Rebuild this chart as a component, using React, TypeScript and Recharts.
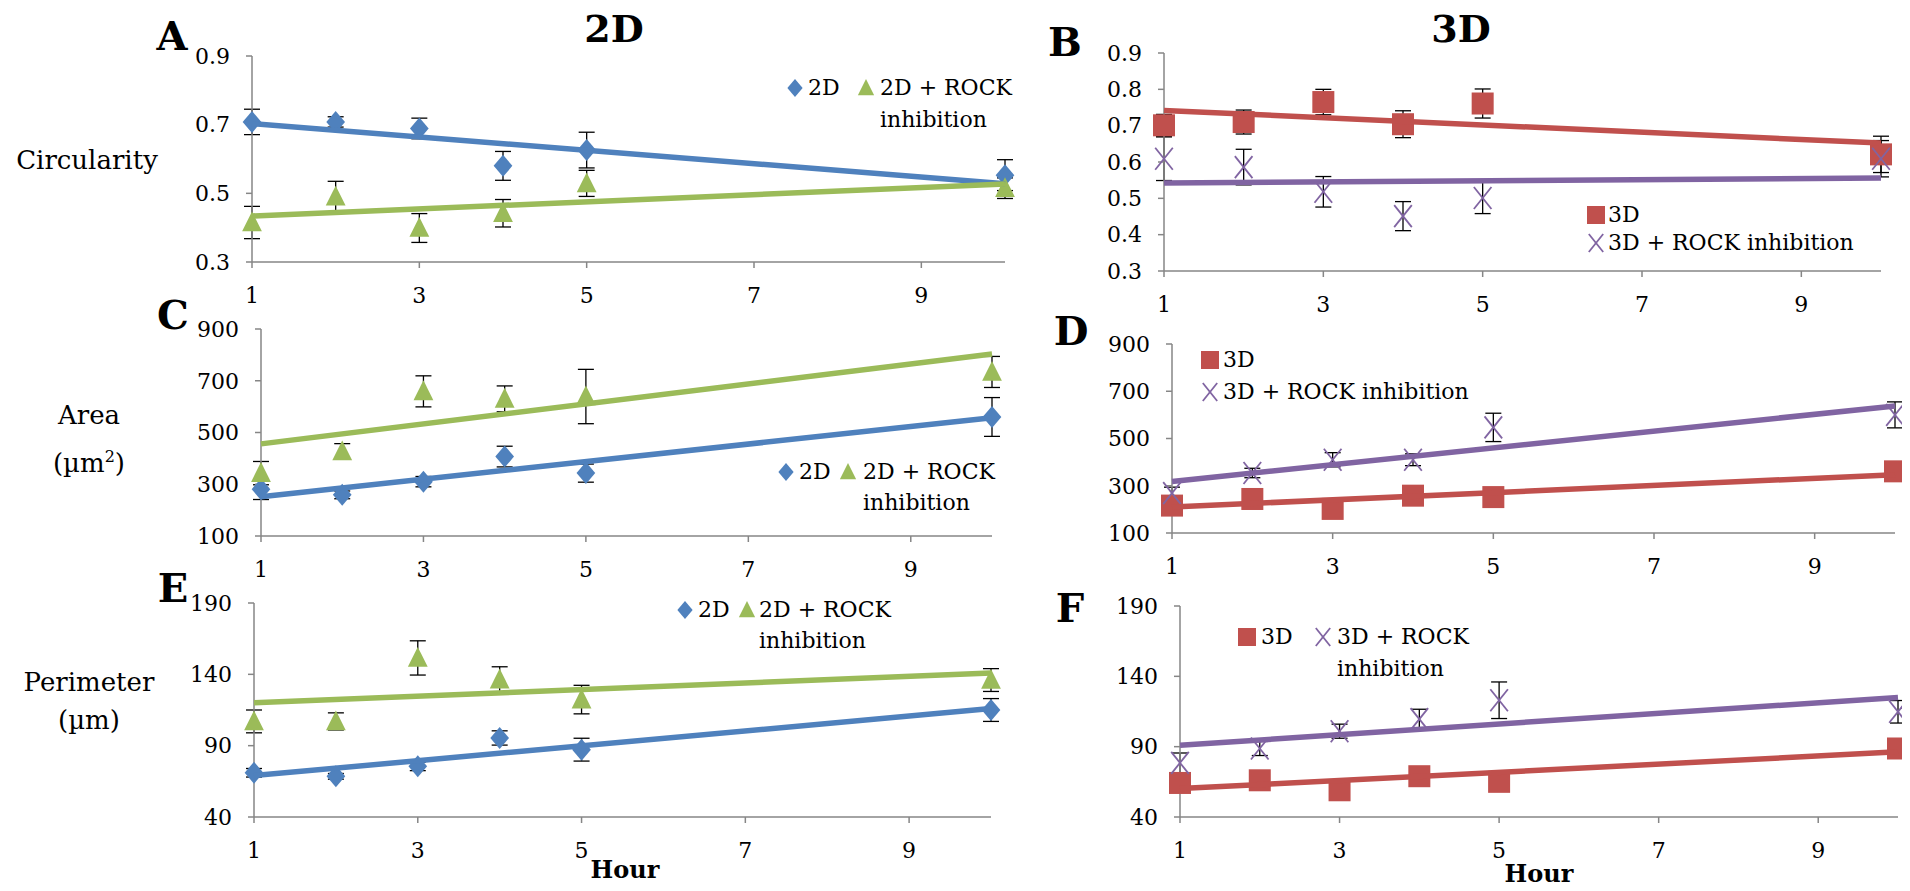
import React from "react";
import { ComposedChart, Scatter, XAxis, YAxis, ErrorBar } from "recharts";

// hours sampled and tick labels
const hours = [1, 2, 3, 4, 5, 10];
const xTicks = [1, 3, 5, 7, 9];
const trendHours = [1, 10];

// A: circularity, 2D
const circ2D = [0.708, 0.708, 0.689, 0.58, 0.626, 0.553];
const circ2DErr = [0.037, 0.015, 0.03, 0.042, 0.052, 0.045];
const circ2DRock = [0.415, 0.49, 0.399, 0.442, 0.529, 0.515];
const circ2DRockErr = [0.047, 0.045, 0.042, 0.04, 0.038, 0.03];
const circ2DTrend = [0.703, 0.528];
const circ2DRockTrend = [0.434, 0.527];

// B: circularity, 3D
const circ3D = [0.701, 0.71, 0.765, 0.704, 0.761, 0.621];
const circ3DErr = [0.03, 0.033, 0.035, 0.037, 0.04, 0.05];
const circ3DRock = [0.609, 0.586, 0.518, 0.451, 0.501, 0.609];
const circ3DRockErr = [0.06, 0.049, 0.042, 0.04, 0.043, 0.05];
const circ3DTrend = [0.742, 0.652];
const circ3DRockTrend = [0.542, 0.556];

// C: area, 2D
const area2D = [281, 259, 310, 407, 343, 560];
const area2DErr = [40, 15, 20, 40, 35, 75];
const area2DRock = [343, 427, 659, 630, 639, 734];
const area2DRockErr = [45, 30, 60, 50, 105, 60];
const area2DTrend = [252, 557];
const area2DRockTrend = [456, 803];

// D: area, 3D
const area3D = [216, 244, 202, 258, 252, 361];
const area3DErr = [15, 15, 15, 15, 15, 15];
const area3DRock = [269, 354, 410, 410, 547, 600];
const area3DRockErr = [25, 20, 30, 25, 60, 55];
const area3DTrend = [210, 347];
const area3DRockTrend = [318, 638];

// E: perimeter, 2D
const perim2D = [71, 68.5, 75.5, 95.4, 87.2, 115];
const perim2DErr = [3, 2, 3, 5, 8, 8];
const perim2DRock = [107, 107, 151.5, 136.3, 122.3, 136];
const perim2DRockErr = [8, 6, 12, 9, 10, 8];
const perim2DTrend = [69, 116];
const perim2DRockTrend = [120, 141];

// F: perimeter, 3D
const perim3D = [64.2, 66.1, 59, 69, 65, 88.7];
const perim3DErr = [3, 3, 3, 3, 3, 6];
const perim3DRock = [78.5, 88.7, 101, 109.6, 123, 114.8];
const perim3DRockErr = [7, 5, 5, 7, 13, 8];
const perim3DTrend = [60.2, 86.3];
const perim3DRockTrend = [91, 125];

const circTicks2D = [0.3, 0.5, 0.7, 0.9];
const circTicks3D = [0.3, 0.4, 0.5, 0.6, 0.7, 0.8, 0.9];
const areaTicks = [100, 300, 500, 700, 900];
const perimTicks = [40, 90, 140, 190];

const BLUE = "#4F81BD";
const GREEN = "#9BBB59";
const RED = "#C0504D";
const PURPLE = "#8064A2";
const AXIS = "#868686";
const FONT = "'DejaVu Serif', serif";

const points = (vals: number[], errs: number[]) =>
  hours.map((h, i) => ({ x: h, y: vals[i], err: errs[i] }));
const trend = (vals: number[]) => trendHours.map((h, i) => ({ x: h, y: vals[i] }));

const Diamond = ({ cx, cy, r = 11 }: any) => (
  <path d={`M${cx},${cy - r} L${cx + r * 0.85},${cy} L${cx},${cy + r} L${cx - r * 0.85},${cy} Z`} fill={BLUE} />
);
const Triangle = ({ cx, cy, r = 11 }: any) => (
  <path d={`M${cx},${cy - r} L${cx + r * 0.9},${cy + r * 0.8} L${cx - r * 0.9},${cy + r * 0.8} Z`} fill={GREEN} />
);
const Square = ({ cx, cy, r = 11 }: any) => (
  <rect x={cx - r} y={cy - r} width={2 * r} height={2 * r} fill={RED} />
);
const Cross = ({ cx, cy, r = 11 }: any) => (
  <g stroke={PURPLE} strokeWidth={1.8}>
    <line x1={cx - r * 0.8} y1={cy - r} x2={cx + r * 0.8} y2={cy + r} />
    <line x1={cx - r * 0.8} y1={cy + r} x2={cx + r * 0.8} y2={cy - r} />
  </g>
);

const markers: Record<string, any> = { diamond: Diamond, triangle: Triangle, square: Square, cross: Cross };

type Series = { vals: number[]; errs: number[]; marker: string };
type Trend = { vals: number[]; color: string };

const Panel = ({ L, R, T, B, domain, ticks, series, trends }: {
  L: number; R: number; T: number; B: number;
  domain: number[]; ticks: number[]; series: Series[]; trends: Trend[];
}) => {
  const yw = 80;
  const mt = 12;
  const xh = 50;
  const w = yw + (R - L) + 12;
  const h = mt + (B - T) + xh;
  const tickStyle = { fill: "#000", fontSize: 22, fontFamily: FONT };
  return (
    <div style={{ position: "absolute", left: L - yw - 8, top: T - mt - 8 }}>
      <ComposedChart width={w} height={h} margin={{ top: mt, right: 12, left: 0, bottom: 0 }}>
        <XAxis type="number" dataKey="x" domain={[1, 10]} ticks={xTicks} interval={0}
          axisLine={{ stroke: AXIS, strokeWidth: 1.5 }} tickLine={{ stroke: AXIS, strokeWidth: 1.5 }}
          tick={tickStyle} tickSize={6} tickMargin={19} height={xh} />
        <YAxis type="number" dataKey="y" domain={domain} ticks={ticks} interval={0} width={yw}
          axisLine={{ stroke: AXIS, strokeWidth: 1.5 }} tickLine={{ stroke: AXIS, strokeWidth: 1.5 }}
          tick={tickStyle} tickSize={6} tickMargin={16} />
        {series.map((s, i) => {
          const M = markers[s.marker];
          return (
            <Scatter key={"s" + i} data={points(s.vals, s.errs)} isAnimationActive={false}
              shape={(p: any) => <M cx={p.cx} cy={p.cy} />}>
              <ErrorBar dataKey="err" direction="y" width={8} stroke="#000" strokeWidth={1.3} />
            </Scatter>
          );
        })}
        {trends.map((t, i) => (
          <Scatter key={"t" + i} data={trend(t.vals)} isAnimationActive={false}
            line={{ stroke: t.color, strokeWidth: 5.5 }} lineType="joint" shape={() => <g />} />
        ))}
      </ComposedChart>
    </div>
  );
};

const Txt = ({ x, y, children, size = 22, bold = false, anchor = "left" }: any) => (
  <div style={{
    position: "absolute", left: x - 8, top: y - 8, fontFamily: FONT, fontSize: size,
    fontWeight: bold ? "bold" : "normal", whiteSpace: "nowrap", lineHeight: 1.25,
    transform: anchor === "center" ? "translate(-50%, -50%)" : "translate(0, -50%)",
  }}>{children}</div>
);

const Mk = ({ x, y, marker }: any) => {
  const M = markers[marker];
  return (
    <svg style={{ position: "absolute", left: x - 8 - 12, top: y - 8 - 12 }} width={24} height={24}>
      <M cx={12} cy={12} r={9} />
    </svg>
  );
};

export default function App() {
  const s2D = (v: number[], e: number[], v2: number[], e2: number[]): Series[] => [
    { vals: v, errs: e, marker: "diamond" },
    { vals: v2, errs: e2, marker: "triangle" },
  ];
  const s3D = (v: number[], e: number[], v2: number[], e2: number[]): Series[] => [
    { vals: v, errs: e, marker: "square" },
    { vals: v2, errs: e2, marker: "cross" },
  ];
  return (
    <div style={{ position: "relative", width: 1894, height: 875, background: "#fff" }}>
      <Panel L={252} R={1005} T={56} B={262} domain={[0.3, 0.9]} ticks={circTicks2D}
        series={s2D(circ2D, circ2DErr, circ2DRock, circ2DRockErr)}
        trends={[{ vals: circ2DTrend, color: BLUE }, { vals: circ2DRockTrend, color: GREEN }]} />
      <Panel L={1164} R={1881} T={53} B={271} domain={[0.3, 0.9]} ticks={circTicks3D}
        series={s3D(circ3D, circ3DErr, circ3DRock, circ3DRockErr)}
        trends={[{ vals: circ3DTrend, color: RED }, { vals: circ3DRockTrend, color: PURPLE }]} />
      <Panel L={261} R={992} T={329} B={536} domain={[100, 900]} ticks={areaTicks}
        series={s2D(area2D, area2DErr, area2DRock, area2DRockErr)}
        trends={[{ vals: area2DTrend, color: BLUE }, { vals: area2DRockTrend, color: GREEN }]} />
      <Panel L={1172} R={1895} T={344} B={533} domain={[100, 900]} ticks={areaTicks}
        series={s3D(area3D, area3DErr, area3DRock, area3DRockErr)}
        trends={[{ vals: area3DTrend, color: RED }, { vals: area3DRockTrend, color: PURPLE }]} />
      <Panel L={254} R={991} T={603} B={817} domain={[40, 190]} ticks={perimTicks}
        series={s2D(perim2D, perim2DErr, perim2DRock, perim2DRockErr)}
        trends={[{ vals: perim2DTrend, color: BLUE }, { vals: perim2DRockTrend, color: GREEN }]} />
      <Panel L={1180} R={1898} T={606} B={817} domain={[40, 190]} ticks={perimTicks}
        series={s3D(perim3D, perim3DErr, perim3DRock, perim3DRockErr)}
        trends={[{ vals: perim3DTrend, color: RED }, { vals: perim3DRockTrend, color: PURPLE }]} />

      {/* panel letters and titles */}
      <Txt x={172} y={36} size={40} bold anchor="center">A</Txt>
      <Txt x={1065} y={42} size={40} bold anchor="center">B</Txt>
      <Txt x={173} y={315} size={40} bold anchor="center">C</Txt>
      <Txt x={1071} y={331} size={40} bold anchor="center">D</Txt>
      <Txt x={173} y={588} size={40} bold anchor="center">E</Txt>
      <Txt x={1070} y={608} size={40} bold anchor="center">F</Txt>
      <Txt x={614} y={29} size={38} bold anchor="center">2D</Txt>
      <Txt x={1461} y={29} size={38} bold anchor="center">3D</Txt>

      {/* axis titles */}
      <Txt x={87} y={160} size={26} anchor="center">Circularity</Txt>
      <Txt x={89} y={415} size={26} anchor="center">Area</Txt>
      <Txt x={89} y={463} size={26} anchor="center">(µm<sup style={{ fontSize: 16, lineHeight: 0 }}>2</sup>)</Txt>
      <Txt x={89} y={682} size={26} anchor="center">Perimeter</Txt>
      <Txt x={89} y={720} size={26} anchor="center">(µm)</Txt>
      <Txt x={625} y={870} size={24} bold anchor="center">Hour</Txt>
      <Txt x={1539} y={874} size={24} bold anchor="center">Hour</Txt>

      {/* legend A */}
      <Mk x={795} y={88} marker="diamond" />
      <Txt x={808} y={88}>2D</Txt>
      <Mk x={866} y={88} marker="triangle" />
      <Txt x={880} y={88}>2D + ROCK</Txt>
      <Txt x={880} y={120}>inhibition</Txt>
      {/* legend C */}
      <Mk x={786} y={472} marker="diamond" />
      <Txt x={799} y={472}>2D</Txt>
      <Mk x={848} y={472} marker="triangle" />
      <Txt x={863} y={472}>2D + ROCK</Txt>
      <Txt x={863} y={503}>inhibition</Txt>
      {/* legend E */}
      <Mk x={685} y={610} marker="diamond" />
      <Txt x={698} y={610}>2D</Txt>
      <Mk x={747} y={610} marker="triangle" />
      <Txt x={759} y={610}>2D + ROCK</Txt>
      <Txt x={759} y={641}>inhibition</Txt>
      {/* legend B */}
      <Mk x={1596} y={215} marker="square" />
      <Txt x={1608} y={215}>3D</Txt>
      <Mk x={1596} y={243} marker="cross" />
      <Txt x={1608} y={243}>3D + ROCK inhibition</Txt>
      {/* legend D */}
      <Mk x={1210} y={360} marker="square" />
      <Txt x={1223} y={360}>3D</Txt>
      <Mk x={1210} y={392} marker="cross" />
      <Txt x={1223} y={392}>3D + ROCK inhibition</Txt>
      {/* legend F */}
      <Mk x={1247} y={637} marker="square" />
      <Txt x={1261} y={637}>3D</Txt>
      <Mk x={1323} y={637} marker="cross" />
      <Txt x={1337} y={637}>3D + ROCK</Txt>
      <Txt x={1337} y={669}>inhibition</Txt>
    </div>
  );
}
